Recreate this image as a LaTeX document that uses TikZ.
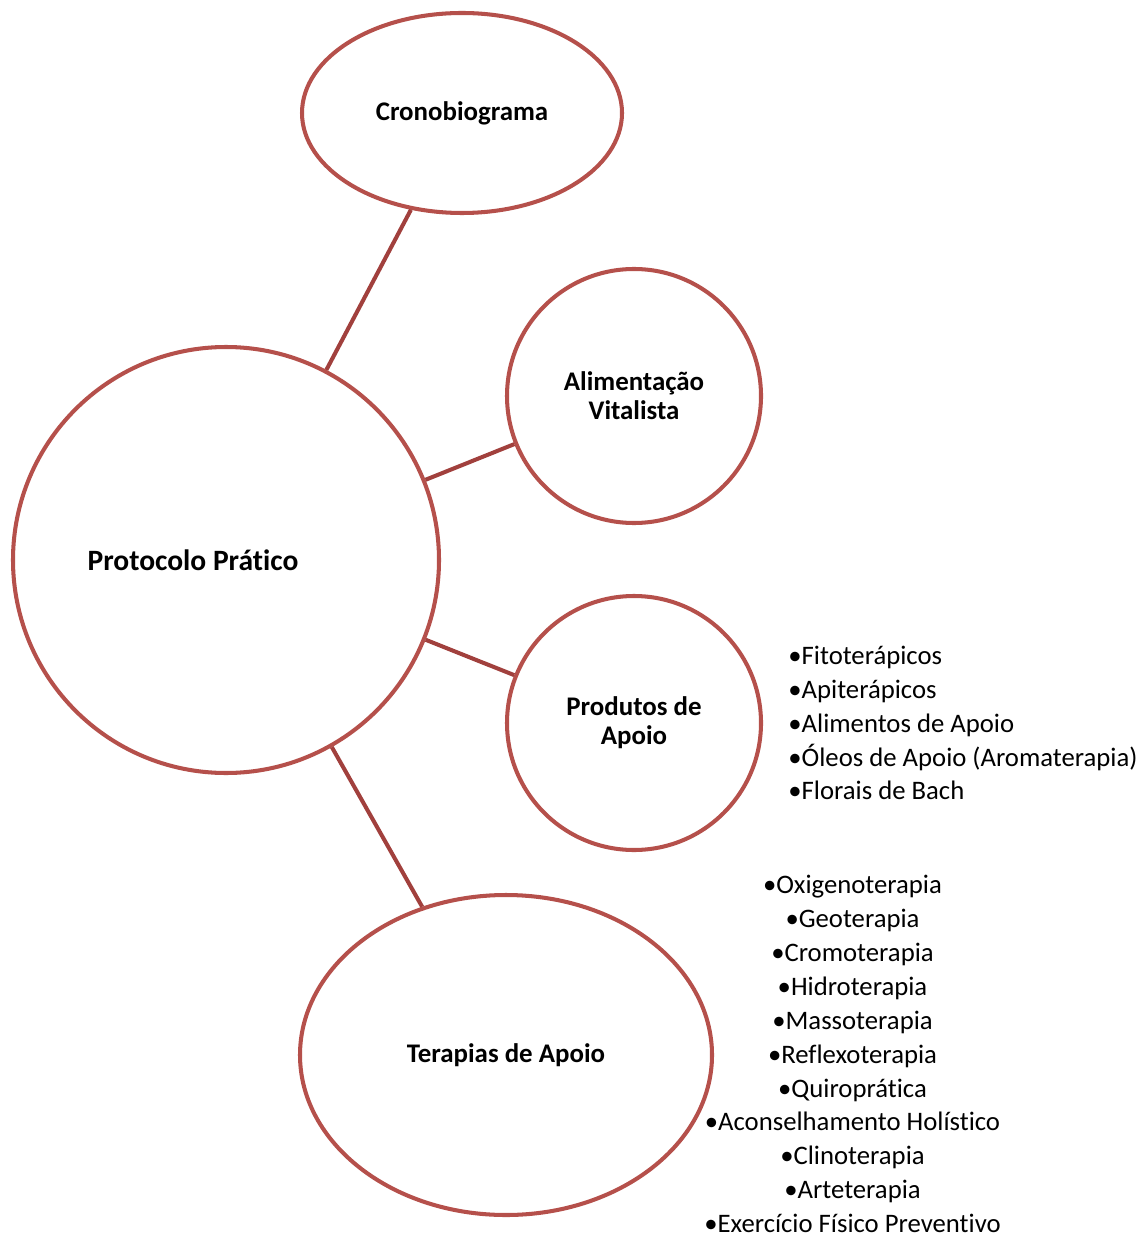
\documentclass[tikz,border=0pt]{standalone}
\usepackage{fontspec}
\setmainfont[Ligatures=NoCommon]{Carlito}
\usepackage{xcolor}
\usepackage{tikz}
\usetikzlibrary{shapes.geometric}
\definecolor{ringred}{HTML}{B5504B}
\definecolor{linkred}{HTML}{A1403D}
\tikzset{
  bubble/.style={
    draw=ringred,
    line width=2.3pt,
    inner sep=0pt,
    align=center,
    font=\fontsize{15.3}{16.5}\selectfont\bfseries},
  ring/.style={bubble, circle},
  oval/.style={bubble, ellipse},
  link/.style={draw=linkred, line width=2.3pt},
  items/.style={inner sep=0pt, font=\fontsize{15.2}{19.3}\selectfont}
  }
\begin{document}
\begin{tikzpicture}
      \useasboundingbox (0,0) rectangle (22.76,-24.72);
      \node[oval, minimum width=6.4cm, minimum height=4cm] (crono) at (9.24,-2.26) {Cronobiograma};
      \node[ring, minimum size=5.08cm] (alim) at (12.68,-7.92) {Alimentação\\Vitalista};
      \node[ring, minimum size=8.52cm, font=\fontsize{16.8}{18}\selectfont\bfseries] (proto) at (4.52,-11.2) {Protocolo Prático\hspace*{1.32cm}};
      \node[ring, minimum size=5.08cm] (prod) at (12.68,-14.46) {Produtos de\\Apoio};
      \node[oval, minimum width=8.24cm, minimum height=6.4cm] (terap) at (10.12,-21.1) {Terapias de Apoio};
      \node[items, anchor=west, align=left] (prodlist) at (15.76,-14.46)
        {•Fitoterápicos\\•Apiterápicos\\•Alimentos de Apoio\\•Óleos de Apoio (Aromaterapia)\\•Florais de Bach};
      \node[items, align=center] (teraplist) at (17.05,-21.08)
        {•Oxigenoterapia\\•Geoterapia\\•Cromoterapia\\•Hidroterapia\\•Massoterapia\\•Reflexoterapia\\•Quiroprática\\•Aconselhamento Holístico\\•Clinoterapia\\•Arteterapia\\•Exercício Físico Preventivo};
      \path[link]
      (proto) edge (crono)
      (proto) edge (alim)
      (proto) edge (prod)
      (proto) edge (terap);
    \end{tikzpicture}
\end{document}
